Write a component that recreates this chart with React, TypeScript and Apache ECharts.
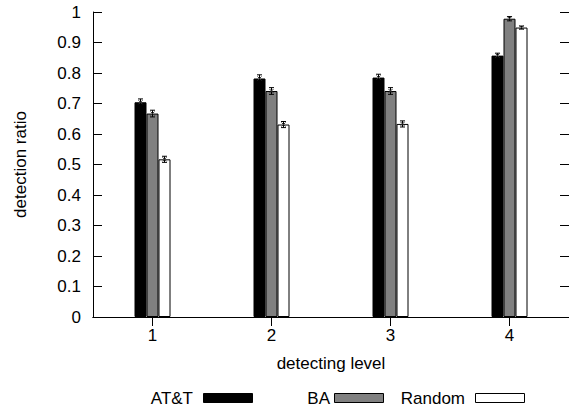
import React, { useEffect, useRef } from "react";
import * as echarts from "echarts";

const categories = ["1", "2", "3", "4"];
const attValues = [0.704, 0.782, 0.785, 0.857];
const attErr = [0.011, 0.012, 0.011, 0.008];
const baValues = [0.667, 0.741, 0.741, 0.978];
const baErr = [0.011, 0.011, 0.011, 0.007];
const randomValues = [0.517, 0.631, 0.633, 0.949];
const randomErr = [0.01, 0.01, 0.01, 0.005];
const yTicks = { min: 0, max: 1, interval: 0.1 };
const seriesNames = ["AT&T", "BA", "Random"];

const FONT = "Liberation Sans, Arial, Helvetica, sans-serif";
const BAR_W = 12;

function errSeries(values: number[], errs: number[], offset: number) {
  return {
    type: "custom",
    xAxisIndex: 0,
    yAxisIndex: 0,
    z: 5,
    silent: true,
    encode: { x: 0, y: 1 },
    data: values.map((v, i) => [i, v, errs[i]]),
    renderItem: (params: any, api: any) => {
      const idx = api.value(0);
      const v = api.value(1);
      const e = api.value(2);
      const c = api.coord([idx, v]);
      const hi = api.coord([idx, v + e]);
      const lo = api.coord([idx, v - e]);
      const x = c[0] + offset;
      const cap = 2.5;
      const m = 2;
      const st = { stroke: "#000", lineWidth: 1 };
      return {
        type: "group",
        children: [
          { type: "line", shape: { x1: x, y1: hi[1], x2: x, y2: lo[1] }, style: st },
          { type: "line", shape: { x1: x - cap, y1: hi[1], x2: x + cap, y2: hi[1] }, style: st },
          { type: "line", shape: { x1: x - cap, y1: lo[1], x2: x + cap, y2: lo[1] }, style: st },
          { type: "line", shape: { x1: x - m, y1: c[1] - m, x2: x + m, y2: c[1] + m }, style: { stroke: "#333", lineWidth: 1 } },
          { type: "line", shape: { x1: x - m, y1: c[1] + m, x2: x + m, y2: c[1] - m }, style: { stroke: "#333", lineWidth: 1 } },
        ],
      };
    },
  };
}

export default function App() {
  const ref = useRef<HTMLDivElement>(null);
  useEffect(() => {
    if (!ref.current) return;
    const chart = echarts.init(ref.current, null, { renderer: "svg" });
    const axisLine = { show: true, lineStyle: { color: "#000", width: 1 } };
    const legendY = 398;
    const legendItems = [
      { textRight: 193, boxX: 203, fill: "#000", stroke: "#000" },
      { textRight: 330, boxX: 334, fill: "#808080", stroke: "#000" },
      { textRight: 465, boxX: 475, fill: "#fff", stroke: "#000" },
    ];
    const graphics: any[] = [];
    legendItems.forEach((it, i) => {
      graphics.push({
        type: "text",
        x: it.textRight,
        y: legendY,
        style: {
          text: seriesNames[i],
          fill: "#000",
          font: `17px ${FONT}`,
          textAlign: "right",
          textVerticalAlign: "middle",
        },
      });
      graphics.push({
        type: "rect",
        shape: { x: it.boxX + 0.5, y: 393.5, width: 49, height: 9 },
        style: { fill: it.fill, stroke: it.stroke, lineWidth: 1 },
      });
    });

    chart.setOption({
      animation: false,
      backgroundColor: "#fff",
      grid: { left: 93, right: -4, top: 12, bottom: 94, containLabel: false },
      xAxis: [
        {
          type: "category",
          data: categories,
          position: "bottom",
          axisLine,
          axisTick: { show: true, inside: true, length: 9, alignWithLabel: true, lineStyle: { color: "#000" } },
          axisLabel: { color: "#000", fontSize: 17, fontFamily: FONT, margin: 10 },
          name: "detecting level",
          nameLocation: "middle",
          nameGap: 38,
          nameTextStyle: { color: "#000", fontSize: 17, fontFamily: FONT },
          splitLine: { show: false },
        },
        {
          type: "category",
          data: categories,
          position: "top",
          axisLine,
          axisTick: { show: true, inside: true, length: 9, alignWithLabel: true, lineStyle: { color: "#000" } },
          axisLabel: { show: false },
          splitLine: { show: false },
        },
      ],
      yAxis: [
        {
          type: "value",
          min: yTicks.min,
          max: yTicks.max,
          interval: yTicks.interval,
          position: "left",
          axisLine,
          axisTick: { show: true, inside: true, length: 9, lineStyle: { color: "#000" } },
          axisLabel: { color: "#000", fontSize: 17, fontFamily: FONT, margin: 12 },
          splitLine: { show: false },
          name: "detection ratio",
          nameLocation: "middle",
          nameGap: 64,
          nameTextStyle: { color: "#000", fontSize: 17, fontFamily: FONT },
        },
        {
          type: "value",
          min: yTicks.min,
          max: yTicks.max,
          interval: yTicks.interval,
          position: "right",
          axisLine,
          axisTick: { show: true, inside: true, length: 9, lineStyle: { color: "#000" } },
          axisLabel: { show: false },
          splitLine: { show: false },
        },
      ],
      series: [
        {
          name: seriesNames[0],
          type: "bar",
          data: attValues,
          barWidth: BAR_W,
          barGap: "0%",
          itemStyle: { color: "#000", borderColor: "#000", borderWidth: 1 },
        },
        {
          name: seriesNames[1],
          type: "bar",
          data: baValues,
          barWidth: BAR_W,
          barGap: "0%",
          itemStyle: { color: "#808080", borderColor: "#000", borderWidth: 1 },
        },
        {
          name: seriesNames[2],
          type: "bar",
          data: randomValues,
          barWidth: BAR_W,
          barGap: "0%",
          itemStyle: { color: "#fff", borderColor: "#000", borderWidth: 1 },
        },
        errSeries(attValues, attErr, -BAR_W),
        errSeries(baValues, baErr, 0),
        errSeries(randomValues, randomErr, BAR_W),
      ],
      graphic: graphics,
    });
    return () => chart.dispose();
  }, []);
  return (
    <div
      ref={ref}
      style={{ position: "fixed", left: 0, top: 0, width: 569, height: 411, overflow: "hidden" }}
    />
  );
}
